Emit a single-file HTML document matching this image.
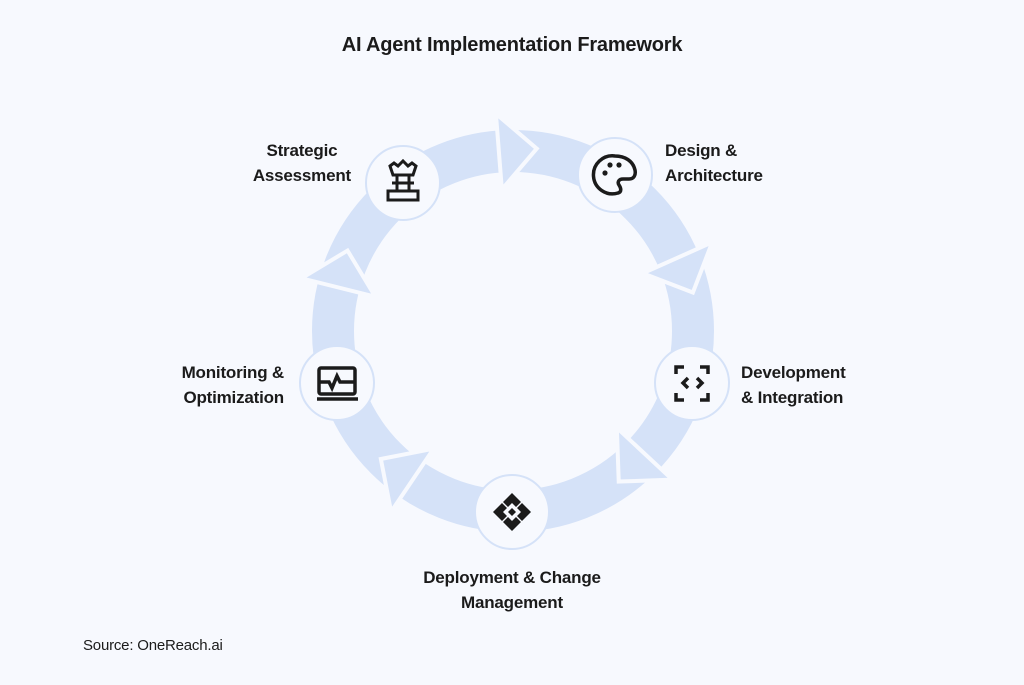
<!DOCTYPE html>
<html><head><meta charset="utf-8"><style>
html,body{margin:0;padding:0;background:#f7f9fe;}
body{width:1024px;height:685px;position:relative;overflow:hidden;font-family:"Liberation Sans",sans-serif;color:#1b1b1b;}
.t{position:absolute;font-size:17px;line-height:25px;font-weight:600;letter-spacing:-0.2px;}
</style></head><body>
<svg width="1024" height="685" style="position:absolute;left:0;top:0">
<circle cx="513" cy="331" r="180" fill="none" stroke="#d5e2f8" stroke-width="42"/>
<g fill="#d5e2f8" stroke="#f7f9fe" stroke-width="4" stroke-linejoin="miter">
<polygon points="513,113 551,151 513,189" transform="rotate(-4.5 513 331)"/>
<polygon points="513,113 551,151 513,189" transform="rotate(66 513 331)"/>
<polygon points="513,113 551,151 513,189" transform="rotate(133 513 331)"/>
<polygon points="513,113 551,151 513,189" transform="rotate(214 513 331)"/>
<polygon points="513,113 551,151 513,189" transform="rotate(284 513 331)"/>
</g>
<g fill="#f7f9fe" stroke="#d5e2f8" stroke-width="2">
<circle cx="403" cy="183" r="37"/>
<circle cx="615" cy="175" r="37"/>
<circle cx="692" cy="383" r="37"/>
<circle cx="512" cy="512" r="37"/>
<circle cx="337" cy="383" r="37"/>
</g>
<!-- chess icon -->
<g fill="none" stroke="#1b1b1b" stroke-width="3">
<path d="M390,166 l4,-3 l4,3 l5,-5 l5,5 l4,-3 l4,3 l-3,9 h-20 z"/>
<path d="M393,175 h20 M397,175 v15 M409,175 v15 M392,183 h22"/>
<rect x="388" y="191" width="30" height="9"/>
</g>
<!-- palette -->
<g>
<path d="M615,156 a19,19 0 1 0 3,37 c4,-1 3,-5 1,-8 c-2,-3 0,-6 4,-6 h6 c5,0 7,-4 6,-9 c-2,-9 -10,-14 -20,-14 z" fill="none" stroke="#1b1b1b" stroke-width="3.5"/>
<circle cx="605" cy="173" r="2.6" fill="#1b1b1b"/><circle cx="610" cy="165" r="2.6" fill="#1b1b1b"/><circle cx="619" cy="165" r="2.6" fill="#1b1b1b"/>
</g>
<!-- code frame -->
<g fill="none" stroke="#1b1b1b" stroke-width="3.5">
<path d="M676,374 v-7 h8 M700,367 h8 v7 M708,393 v7 h-8 M684,400 h-8 v-7"/>
<path d="M688,378 l-5,5 l5,5 M697,378 l5,5 l-5,5"/>
</g>
<!-- diamond -->
<g fill="#1b1b1b">
<polygon points="512,493 521,502 516,507 512,503 508,507 503,502"/>
<polygon points="512,531 521,522 516,517 512,521 508,517 503,522"/>
<polygon points="493,512 502,503 507,508 503,512 507,516 502,521"/>
<polygon points="531,512 522,503 517,508 521,512 517,516 522,521"/>
<polygon points="512,508 516,512 512,516 508,512"/>
</g>
<!-- monitor -->
<g fill="none" stroke="#1b1b1b" stroke-width="3.5">
<rect x="319" y="368" width="36" height="26" rx="2"/>
<path d="M317,399 h41"/>
<path d="M320,382 h9 l3,6 l5,-12 l3,6 h14"/>
</g>
</svg>
<div class="t" style="left:0;width:1024px;top:33px;text-align:center;font-size:20px;font-weight:bold;">AI Agent Implementation Framework</div>
<div class="t" style="right:673px;top:138px;text-align:center;">Strategic<br>Assessment</div>
<div class="t" style="left:665px;top:138px;">Design &amp;<br>Architecture</div>
<div class="t" style="left:741px;top:360px;">Development<br>&amp; Integration</div>
<div class="t" style="right:740px;top:360px;text-align:right;">Monitoring &amp;<br>Optimization</div>
<div class="t" style="left:0;width:1024px;top:565px;text-align:center;">Deployment &amp; Change<br>Management</div>
<div class="t" style="left:83px;top:633px;font-size:15px;font-weight:normal;">Source: OneReach.ai</div>
</body></html>
